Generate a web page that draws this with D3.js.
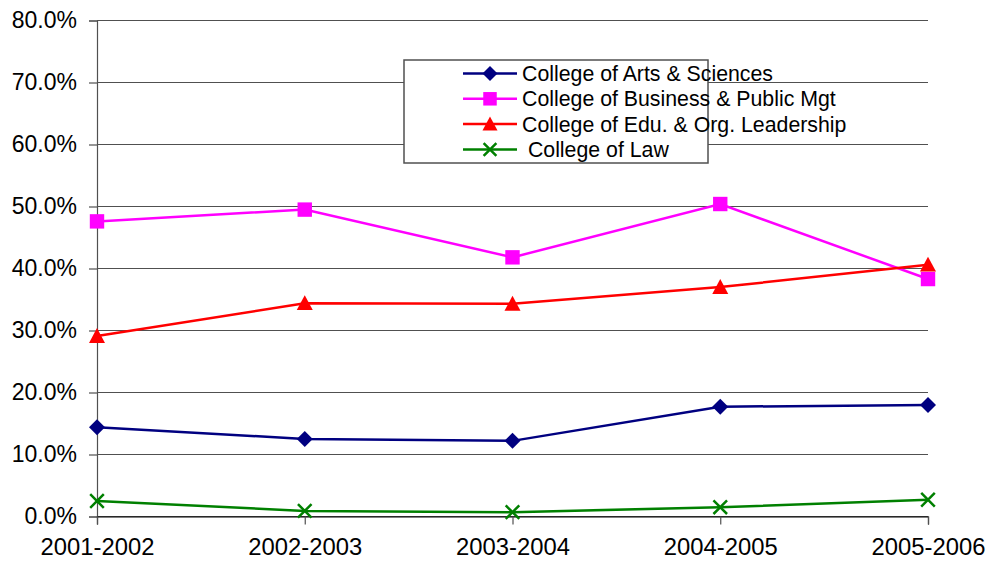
<!DOCTYPE html>
<html>
<head>
<meta charset="utf-8">
<script src="https://cdn.jsdelivr.net/npm/d3@7"></script>
<style>
  body { margin: 0; background: #fff; }
  svg { display: block; font-family: "Liberation Sans", Arial, sans-serif; }
</style>
</head>
<body>
<div id="chart"></div>
<script>
// Categories and series (percent values)
const years = ["2001-2002", "2002-2003", "2003-2004", "2004-2005", "2005-2006"];
const artsSciences = [14.4, 12.5, 12.2, 17.7, 18.0];
const businessMgt = [47.6, 49.5, 41.8, 50.4, 38.3];
const eduLeadership = [29.1, 34.4, 34.3, 37.0, 40.6];
const law = [2.5, 0.9, 0.7, 1.5, 2.7];
const yTicks = [0, 10, 20, 30, 40, 50, 60, 70, 80];

const series = [
    { name: "College of Arts & Sciences", values: artsSciences, color: "#000080", marker: "diamond" },
    { name: "College of Business & Public Mgt", values: businessMgt, color: "#FF00FF", marker: "square" },
    { name: "College of Edu. & Org. Leadership", values: eduLeadership, color: "#FF0000", marker: "triangle" },
    { name: " College of Law", values: law, color: "#008000", marker: "cross" }
];

const svgWidth = 990, svgHeight = 561;
const margin = { top: 20.5, right: 62, bottom: 44.5, left: 97 };
const width = svgWidth - margin.left - margin.right;
const height = svgHeight - margin.top - margin.bottom;

const svg = d3.select("#chart")
    .append("svg")
    .attr("width", svgWidth)
    .attr("height", svgHeight);

const g = svg.append("g")
    .attr("transform", `translate(${margin.left},${margin.top})`);

const xScale = d3.scalePoint()
    .domain(years)
    .range([0, width]);

const yScale = d3.scaleLinear()
    .domain([0, 80])
    .range([height, 0]);

// Gridlines
g.append("g")
    .selectAll("line")
    .data(yTicks)
    .enter()
    .append("line")
    .attr("x1", 0)
    .attr("x2", width)
    .attr("y1", d => yScale(d))
    .attr("y2", d => yScale(d))
    .attr("stroke", "#505050")
    .attr("stroke-width", 1.2);

// Y axis
const yAxis = d3.axisLeft(yScale)
    .tickValues(yTicks)
    .tickSize(8)
    .tickPadding(12)
    .tickFormat(d => d3.format(".1f")(d) + "%");

const yAxisGroup = g.append("g").call(yAxis);
yAxisGroup.select(".domain").attr("stroke", "#505050").attr("stroke-width", 1.2);
yAxisGroup.selectAll("line").attr("stroke", "#505050").attr("stroke-width", 1.2);
yAxisGroup.selectAll("text")
    .attr("font-size", "23px")
    .attr("font-family", "'Liberation Sans', Arial, sans-serif")
    .attr("fill", "#000");

// X axis
const xAxis = d3.axisBottom(xScale)
    .tickSize(8)
    .tickPadding(14);

const xAxisGroup = g.append("g")
    .attr("transform", `translate(0,${height})`)
    .call(xAxis);
xAxisGroup.select(".domain").attr("stroke", "#000").attr("stroke-width", 1.2);
xAxisGroup.selectAll("line").attr("stroke", "#505050").attr("stroke-width", 1.2);
xAxisGroup.selectAll("text")
    .attr("font-size", "23.8px")
    .attr("font-family", "'Liberation Sans', Arial, sans-serif")
    .attr("fill", "#000");

// Marker drawing helper
function drawMarker(sel, type, color, size) {
    const s = size / 2;
    if (type === "diamond") {
        sel.append("path")
            .attr("d", `M0,${-s}L${s},0L0,${s}L${-s},0Z`)
            .attr("fill", color);
    } else if (type === "square") {
        sel.append("rect")
            .attr("x", -s * 0.9).attr("y", -s * 0.9)
            .attr("width", s * 1.8).attr("height", s * 1.8)
            .attr("fill", color);
    } else if (type === "triangle") {
        sel.append("path")
            .attr("d", `M0,${-s}L${s},${s * 0.85}L${-s},${s * 0.85}Z`)
            .attr("fill", color);
    } else if (type === "cross") {
        const c = s * 0.85;
        sel.append("path")
            .attr("d", `M${-c},${-c}L${c},${c}M${-c},${c}L${c},${-c}`)
            .attr("stroke", color)
            .attr("stroke-width", 2.5)
            .attr("fill", "none");
    }
}

const line = d3.line()
    .x((d, i) => xScale(years[i]))
    .y(d => yScale(d));

series.forEach(s => {
    g.append("path")
        .datum(s.values)
        .attr("d", line)
        .attr("fill", "none")
        .attr("stroke", s.color)
        .attr("stroke-width", 2.5);

    g.selectAll(null)
        .data(s.values)
        .enter()
        .append("g")
        .attr("transform", (d, i) => `translate(${xScale(years[i])},${yScale(d)})`)
        .each(function() {
            drawMarker(d3.select(this), s.marker, s.color, 16);
        });
});

// Legend
const legend = svg.append("g")
    .attr("transform", "translate(404,60)");

legend.append("rect")
    .attr("width", 304)
    .attr("height", 103)
    .attr("fill", "#fff")
    .attr("stroke", "#505050")
    .attr("stroke-width", 1.5);

const legendItems = legend.selectAll(".legend-item")
    .data(series)
    .enter()
    .append("g")
    .attr("class", "legend-item")
    .attr("transform", (d, i) => `translate(0,${13.5 + i * 25.3})`);

legendItems.append("line")
    .attr("x1", 59)
    .attr("x2", 113)
    .attr("stroke", d => d.color)
    .attr("stroke-width", 2.5);

legendItems.append("g")
    .attr("transform", "translate(86,0)")
    .each(function(d) {
        drawMarker(d3.select(this), d.marker, d.color, 15);
    });

legendItems.append("text")
    .attr("x", 118)
    .attr("dy", "0.35em")
    .attr("font-size", "21.3px")
    .attr("font-family", "'Liberation Sans', Arial, sans-serif")
    .attr("fill", "#000")
    .attr("xml:space", "preserve")
    .text(d => d.name);
</script>
</body>
</html>
